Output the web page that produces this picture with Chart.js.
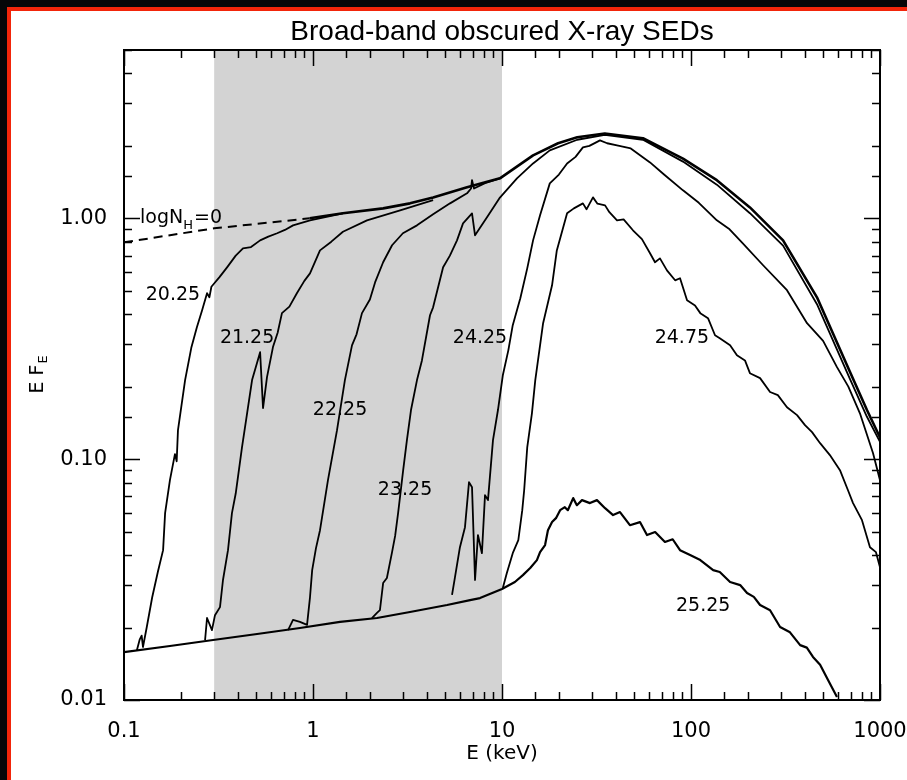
<!DOCTYPE html>
<html>
<head>
<meta charset="utf-8">
<title>Broad-band obscured X-ray SEDs</title>
<script src="https://cdn.jsdelivr.net/npm/chart.js@4.4.1/dist/chart.umd.min.js"></script>
<style>
  html, body { margin: 0; padding: 0; background: #fff; overflow: hidden; scrollbar-width: none; }
  ::-webkit-scrollbar { display: none; width: 0; height: 0; }
  .dark { position: fixed; background: #050608; }
  #darkLeft { left: 0; top: 0; width: 7px; height: 100%; }
  #darkTop { left: 0; top: 0; height: 7px; width: 100%; }
  #redLeft { position: fixed; left: 7px; top: 7px; width: 4px; height: 100%; background: #f2250a; }
  #redTop { position: fixed; left: 7px; top: 7px; height: 4px; width: 100%; background: #f2250a; }
  #sed-chart { position: absolute; left: 12px; top: 11px; }
</style>
</head>
<body>
<div class="dark" id="darkLeft"></div>
<div class="dark" id="darkTop"></div>
<div id="redLeft"></div>
<div id="redTop"></div>
<canvas id="sed-chart" width="895" height="769"></canvas>
<script>
// axis ranges and ticks
var X_MIN = 0.1, X_MAX = 1000;
var Y_MIN = 0.01, Y_MAX = 5;
var X_TICK_VALUES = [0.1, 1, 10, 100, 1000];
var X_TICK_LABELS = ["0.1", "1", "10", "100", "1000"];
var Y_TICK_VALUES = [0.01, 0.1, 1];
var Y_TICK_LABELS = ["0.01", "0.10", "1.00"];

// shaded band (keV) and end of dashed part of the unabsorbed curve
var BAND = [0.3, 10];
var DASH_END = 1.1;

// logNH = 0 (unabsorbed)
var E_NH0 = [0.1, 0.3, 0.96, 1.44, 2.35, 3.26, 4.32, 6.53, 9.75, 14.6, 19.8, 25, 35, 55.7, 90.7, 137, 205, 307, 464, 694, 853, 1000];
var F_NH0 = [0.795, 0.909, 1.0, 1.049, 1.10, 1.154, 1.22, 1.345, 1.466, 1.826, 2.05, 2.17, 2.25, 2.15, 1.77, 1.44, 1.11, 0.81, 0.47, 0.230, 0.160, 0.123];

// logNH = 20.25
var E_2025 = [0.117, 0.121, 0.124, 0.126, 0.132, 0.141, 0.151, 0.161, 0.165, 0.175, 0.186, 0.19, 0.193, 0.2105, 0.227, 0.243, 0.259, 0.275, 0.283, 0.29, 0.296, 0.32, 0.351, 0.39, 0.426, 0.47, 0.525, 0.58, 0.646, 0.71, 0.784, 0.964, 1.44];
var F_2025 = [0.0161, 0.0178, 0.0185, 0.0166, 0.0201, 0.0267, 0.034, 0.0419, 0.0597, 0.0818, 0.105, 0.098, 0.132, 0.213, 0.29, 0.353, 0.415, 0.489, 0.47, 0.52, 0.53, 0.57, 0.626, 0.70, 0.751, 0.76, 0.81, 0.84, 0.867, 0.895, 0.935, 0.981, 1.049];

// logNH = 21.25
var E_2125 = [0.2685, 0.275, 0.292, 0.303, 0.322, 0.334, 0.355, 0.3725, 0.39, 0.421, 0.448, 0.476, 0.525, 0.544, 0.571, 0.614, 0.65, 0.685, 0.75, 0.823, 0.9, 0.964, 1.089, 1.25, 1.44, 1.93, 2.89, 4.32];
var F_2125 = [0.01775, 0.0219, 0.0195, 0.0225, 0.0243, 0.0315, 0.0419, 0.0597, 0.072, 0.112, 0.155, 0.213, 0.278, 0.163, 0.219, 0.292, 0.335, 0.404, 0.43, 0.49, 0.55, 0.591, 0.736, 0.80, 0.88, 0.981, 1.08, 1.19];

// logNH = 22.25
var E_2225 = [0.738, 0.784, 0.853, 0.93, 0.964, 0.99, 1.037, 1.089, 1.2, 1.34, 1.475, 1.608, 1.7, 1.816, 2.0, 2.13, 2.35, 2.62, 2.99, 3.55, 4.32, 5.31, 6.53, 6.86, 6.94, 7.11, 8.13, 9.75];
var F_2225 = [0.0195, 0.0215, 0.0211, 0.0205, 0.0267, 0.0346, 0.0427, 0.0507, 0.0818, 0.132, 0.213, 0.297, 0.33, 0.404, 0.46, 0.542, 0.657, 0.773, 0.867, 0.935, 1.039, 1.154, 1.27, 1.33, 1.44, 1.33, 1.40, 1.466];

// logNH = 23.25
var E_2325 = [2.05, 2.18, 2.26, 2.35, 2.46, 2.62, 2.72, 2.82, 3.0, 3.14, 3.3, 3.55, 3.77, 4.16, 4.32, 4.88, 5.3, 5.78, 6.22, 6.94, 7.2, 8.33, 9.75, 12.0, 14.6, 17.9, 25, 35, 55.7, 90.7, 137, 205, 307, 464, 694, 853, 1000];
var F_2325 = [0.0219, 0.023, 0.0236, 0.0306, 0.0321, 0.0411, 0.048, 0.0597, 0.090, 0.120, 0.16, 0.213, 0.257, 0.396, 0.427, 0.626, 0.70, 0.81, 0.953, 1.049, 0.85, 1.01, 1.22, 1.466, 1.69, 1.915, 2.12, 2.22, 2.12, 1.72, 1.38, 1.05, 0.77, 0.44, 0.215, 0.15, 0.118];

// logNH = 24.25
var E_2425 = [5.44, 5.64, 5.99, 6.37, 6.69, 6.94, 7.2, 7.46, 7.83, 8.13, 8.43, 8.96, 9.52, 10.1, 10.8, 11.4, 12.5, 13.6, 14.6, 15.9, 17.9, 20, 22.1, 24.5, 26.8, 29, 33.0, 36, 40.6, 48, 60.7, 72, 90.7, 110, 137, 160, 188, 240, 322, 411, 500, 592, 680, 783, 918, 1000];
var F_2425 = [0.0273, 0.0324, 0.0431, 0.0522, 0.0803, 0.0765, 0.0315, 0.0484, 0.0407, 0.0709, 0.0676, 0.120, 0.160, 0.223, 0.283, 0.360, 0.466, 0.62, 0.81, 1.029, 1.397, 1.52, 1.69, 1.80, 1.97, 2.0, 2.107, 2.05, 2.01, 1.95, 1.707, 1.52, 1.307, 1.16, 0.981, 0.90, 0.788, 0.64, 0.503, 0.367, 0.31, 0.241, 0.20, 0.155, 0.106, 0.0818];

// logNH = 24.75
var E_2475 = [10.1, 10.6, 11.4, 12.2, 12.8, 13.1, 13.6, 14.4, 15.0, 16.5, 18.4, 19.5, 22.1, 24, 26.8, 28, 30.3, 32, 35.1, 37, 40.6, 44, 49.3, 55, 60.7, 64.5,
              68.5, 74.6, 82.4, 87.5, 95.3, 105, 112, 123, 134, 142, 161, 175, 193, 205, 232, 262, 288, 322, 364, 401,
              437, 482, 543, 614, 677, 720, 803, 885, 952, 1000];
var F_2475 = [0.0292, 0.0336, 0.0407, 0.0461, 0.0614, 0.0743, 0.112, 0.155, 0.213, 0.367, 0.527, 0.736, 1.049, 1.10, 1.154, 1.09, 1.222, 1.15, 1.132, 1.06, 0.981, 0.99, 0.892, 0.82, 0.716, 0.657,
              0.682, 0.608, 0.553, 0.564, 0.457, 0.435, 0.404, 0.385, 0.327, 0.318, 0.297, 0.270, 0.257, 0.2275, 0.217, 0.190, 0.1844, 0.1643, 0.1523, 0.1384,
              0.1295, 0.1165, 0.104, 0.090, 0.0743, 0.0657, 0.0558, 0.0431, 0.0411, 0.0356];

// logNH = 25.25 (its low energy part is the common scattered floor)
var E_2525 = [0.1, 0.175, 0.296, 0.506, 0.853, 1.39, 2.18, 3.26, 5.12, 6.78, 7.65, 10, 11.7, 12.9, 14.1, 15.3, 15.9, 16.9, 17.5, 18.4,
              19.3, 20.3, 21.5, 22.3, 23.8, 24.9, 26.5, 29.2, 31.8, 35.1, 38.7, 42.1, 47.5, 53.7, 58.5, 64.6, 72.8, 80, 87.5, 98.9, 112,
              131, 142, 161, 182, 198, 215, 232, 262, 296, 334, 378, 410, 442, 482, 531, 592];
var F_2525 = [0.0158, 0.01676, 0.01775, 0.0188, 0.0199, 0.0211, 0.0219, 0.0232, 0.0248, 0.026, 0.0265, 0.0289, 0.0309, 0.033, 0.0353, 0.0381, 0.0411, 0.044, 0.0507, 0.0548,
              0.0569, 0.0614, 0.0632, 0.0614, 0.0689, 0.0644, 0.0676, 0.0657, 0.0676, 0.0626, 0.0586, 0.0603, 0.0532, 0.0548, 0.0484, 0.0498, 0.0453, 0.0465, 0.0419, 0.040, 0.0381,
              0.0346, 0.034, 0.0309, 0.030, 0.0278, 0.0268, 0.0248, 0.0236, 0.0201, 0.0191, 0.0169, 0.0165, 0.0151, 0.014, 0.0121, 0.0103];

// curve labels, anchored in data coordinates
var LABEL_TEXT = ["20.25", "21.25", "22.25", "23.25", "24.25", "24.75", "25.25"];
var LABEL_E = [0.1815, 0.448, 1.39, 3.07, 7.65, 89.5, 116];
var LABEL_F = [0.479, 0.318, 0.160, 0.0744, 0.318, 0.318, 0.0245];
var NH0_LABEL_E = 0.1216, NH0_LABEL_F = 1.0;

var TITLE = "Broad-band obscured X-ray SEDs";
var LABEL_FONT = "19px 'DejaVu Sans', sans-serif";
var SUB_FONT = "13px 'DejaVu Sans', sans-serif";

function pts(e, f) {
  return e.map(function (x, i) { return { x: x, y: f[i] }; });
}

function curve(e, f, width) {
  return {
    data: pts(e, f),
    borderColor: "#000",
    borderWidth: width || 1.8,
    borderJoinStyle: "round",
    pointRadius: 0,
    tension: 0,
    fill: false
  };
}

function isDecade(v) {
  var l = Math.log10(v);
  return Math.abs(l - Math.round(l)) < 1e-6;
}

function tickText(values, labels) {
  return function (value) {
    for (var i = 0; i < values.length; i++) {
      if (Math.abs(values[i] - value) / values[i] < 1e-6) return labels[i];
    }
    return "";
  };
}

var unabs = curve(E_NH0, F_NH0, 2.6);
unabs.segment = {
  borderDash: function (ctx) { return ctx.p1.parsed.x <= DASH_END ? [9, 6] : undefined; },
  borderWidth: function (ctx) { return ctx.p1.parsed.x <= DASH_END ? 2 : 2.6; }
};

// grey band behind the curves
var bandPlugin = {
  id: "band",
  beforeDatasetsDraw: function (chart) {
    var a = chart.chartArea, xs = chart.scales.x, c = chart.ctx;
    var x1 = xs.getPixelForValue(BAND[0]), x2 = xs.getPixelForValue(BAND[1]);
    c.save();
    c.fillStyle = "#d3d3d3";
    c.fillRect(x1, a.top, x2 - x1, a.bottom - a.top);
    c.restore();
  }
};

// box, inward ticks on all four sides, and text inside the plot
var framePlugin = {
  id: "frame",
  afterDatasetsDraw: function (chart) {
    var a = chart.chartArea, c = chart.ctx;
    var xs = chart.scales.x, ys = chart.scales.y;
    c.save();
    c.strokeStyle = "#000";
    c.lineWidth = 1.5;
    c.beginPath();
    xs.ticks.forEach(function (t) {
      var px = Math.round(xs.getPixelForValue(t.value)) + 0.5;
      var len = isDecade(t.value) ? 16 : 8;
      c.moveTo(px, a.bottom); c.lineTo(px, a.bottom - len);
      c.moveTo(px, a.top); c.lineTo(px, a.top + len);
    });
    ys.ticks.forEach(function (t) {
      var py = Math.round(ys.getPixelForValue(t.value)) + 0.5;
      var len = isDecade(t.value) ? 16 : 8;
      c.moveTo(a.left, py); c.lineTo(a.left + len, py);
      c.moveTo(a.right, py); c.lineTo(a.right - len, py);
    });
    c.stroke();
    c.lineWidth = 2;
    c.strokeRect(a.left, a.top, a.right - a.left, a.bottom - a.top);

    c.fillStyle = "#000";
    c.font = LABEL_FONT;
    c.textAlign = "center";
    c.textBaseline = "middle";
    for (var i = 0; i < LABEL_TEXT.length; i++) {
      c.fillText(LABEL_TEXT[i], xs.getPixelForValue(LABEL_E[i]), ys.getPixelForValue(LABEL_F[i]));
    }

    // logN_H=0
    var lx = xs.getPixelForValue(NH0_LABEL_E), ly = ys.getPixelForValue(NH0_LABEL_F);
    c.textAlign = "left";
    c.fillText("logN", lx, ly);
    lx += c.measureText("logN").width;
    c.font = SUB_FONT;
    c.fillText("H", lx, ly + 7);
    lx += c.measureText("H").width + 1;
    c.font = LABEL_FONT;
    c.fillText("=0", lx, ly);

    // y axis title E F_E
    c.translate(26, (a.top + a.bottom) / 2);
    c.rotate(-Math.PI / 2);
    c.font = LABEL_FONT;
    var w1 = c.measureText("E F").width;
    c.font = SUB_FONT;
    var w2 = c.measureText("E").width;
    c.font = LABEL_FONT;
    c.fillText("E F", -(w1 + w2) / 2, 0);
    c.font = SUB_FONT;
    c.fillText("E", -(w1 + w2) / 2 + w1 + 1, 6);
    c.restore();
  }
};

var tickFont = { family: "'DejaVu Sans', sans-serif", size: 21 };

new Chart(document.getElementById("sed-chart"), {
  type: "line",
  data: {
    datasets: [
      unabs,
      curve(E_2025, F_2025),
      curve(E_2125, F_2125),
      curve(E_2225, F_2225),
      curve(E_2325, F_2325),
      curve(E_2425, F_2425),
      curve(E_2475, F_2475),
      curve(E_2525, F_2525, 2.2)
    ]
  },
  options: {
    responsive: false,
    animation: false,
    layout: { padding: { left: 0, right: 27, top: 0, bottom: 0 } },
    plugins: {
      legend: { display: false },
      tooltip: { enabled: false },
      title: { display: false }
    },
    scales: {
      x: {
        type: "logarithmic",
        min: X_MIN,
        max: X_MAX,
        grid: { display: false, drawTicks: false },
        border: { display: false },
        ticks: { autoSkip: false, maxRotation: 0, padding: 19, color: "#000", font: tickFont,
                 callback: tickText(X_TICK_VALUES, X_TICK_LABELS) },
        title: { display: true, text: "E (keV)", color: "#000",
                 font: { family: "'DejaVu Sans', sans-serif", size: 20 }, padding: { top: 0, bottom: 14 } },
        afterFit: function (s) { s.height = 80; s.paddingLeft = 0; s.paddingRight = 0; }
      },
      // top axis only carries the plot title, centred over the plot box
      top: {
        type: "logarithmic",
        position: "top",
        min: X_MIN,
        max: X_MAX,
        grid: { display: false, drawTicks: false },
        border: { display: false },
        ticks: { display: false },
        title: { display: true, text: TITLE, color: "#000",
                 font: { family: "'Liberation Sans', Arial, sans-serif", size: 28 }, padding: { top: 4, bottom: 0 } },
        afterFit: function (s) { s.height = 39; s.paddingLeft = 0; s.paddingRight = 0; }
      },
      y: {
        type: "logarithmic",
        min: Y_MIN,
        max: Y_MAX,
        grid: { display: false, drawTicks: false },
        border: { display: false },
        ticks: { autoSkip: false, padding: 17, color: "#000", font: tickFont,
                 callback: tickText(Y_TICK_VALUES, Y_TICK_LABELS) },
        afterFit: function (s) { s.width = 112; s.paddingTop = 0; s.paddingBottom = 0; }
      }
    }
  },
  plugins: [bandPlugin, framePlugin]
});
</script>
</body>
</html>
